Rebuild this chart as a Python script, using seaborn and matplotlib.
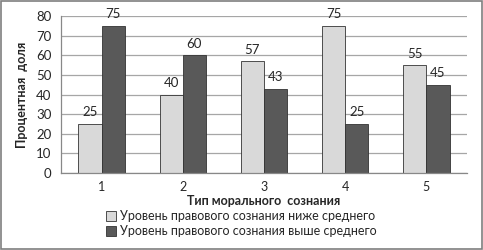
import matplotlib
matplotlib.use("Agg")
import matplotlib.pyplot as plt
import seaborn as sns
import pandas as pd
from matplotlib.patches import Patch, Rectangle

categories = ["1", "2", "3", "4", "5"]
below_avg = [25, 40, 57, 75, 55]
above_avg = [75, 60, 43, 25, 45]
series_names = ["Уровень правового сознания ниже среднего",
                "Уровень правового сознания выше среднего"]
y_ticks = [0, 10, 20, 30, 40, 50, 60, 70, 80]

df = pd.DataFrame({
    "cat": categories * 2,
    "val": below_avg + above_avg,
    "series": [series_names[0]] * 5 + [series_names[1]] * 5,
})

sns.set_style("white")
plt.rcParams["font.family"] = ["Lato", "DejaVu Sans"]

colors = ["#D9D9D9", "#595959"]
fig = plt.figure(figsize=(4.83, 2.5), dpi=100)
ax = fig.add_axes([61 / 483, 1 - 173 / 250, (467 - 61) / 483, (173 - 16) / 250])

sns.barplot(data=df, x="cat", y="val", hue="series", palette=colors,
            width=0.57, ax=ax, edgecolor="#333333", linewidth=0.6,
            legend=False, order=categories, hue_order=series_names)

ax.set_ylim(0, 80)
ax.set_xlim(-0.5, 4.5)
ax.set_yticks(y_ticks)
ax.yaxis.grid(True, color="#A6A6A6", linewidth=0.9)
ax.set_axisbelow(True)
for s in ["top", "right"]:
    ax.spines[s].set_visible(False)
for s in ["left", "bottom"]:
    ax.spines[s].set_color("#888888")
    ax.spines[s].set_linewidth(0.9)

ax.set_xticks([-0.5, 0.5, 1.5, 2.5, 3.5, 4.5], minor=True)
ax.tick_params(axis="x", which="major", length=0, labelsize=9, pad=6)
ax.tick_params(axis="x", which="minor", length=4, color="#888888", direction="out")
ax.tick_params(axis="y", length=4, color="#888888", direction="out", labelsize=9.5, pad=3)

for cont in ax.containers:
    for bar, v in zip(cont, cont.datavalues):
        ax.annotate(f"{int(v)}", (bar.get_x() + bar.get_width() / 2, bar.get_height()),
                    xytext=(0, 4), textcoords="offset points", ha="center", va="bottom",
                    fontsize=9.5, annotation_clip=False)

ax.set_xlabel("Тип морального  сознания", fontsize=9, fontweight="bold", labelpad=1)
ax.set_ylabel("Процентная  доля", fontsize=9, fontweight="bold", labelpad=6)

handles = [Patch(facecolor=colors[i], edgecolor="#333333", linewidth=0.6) for i in range(2)]
fig.legend(handles, series_names, loc="upper center", bbox_to_anchor=(0.5, 1 - 204 / 250),
           frameon=False, fontsize=9, handlelength=0.8, handleheight=0.8,
           handletextpad=0.3, labelspacing=0.25, borderpad=0)

fig.patches.append(Rectangle((0.002, 0.004), 0.996, 0.992, transform=fig.transFigure,
                             fill=False, edgecolor="#7F7F7F", linewidth=1.2))
fig.savefig("out.png", dpi=100)
